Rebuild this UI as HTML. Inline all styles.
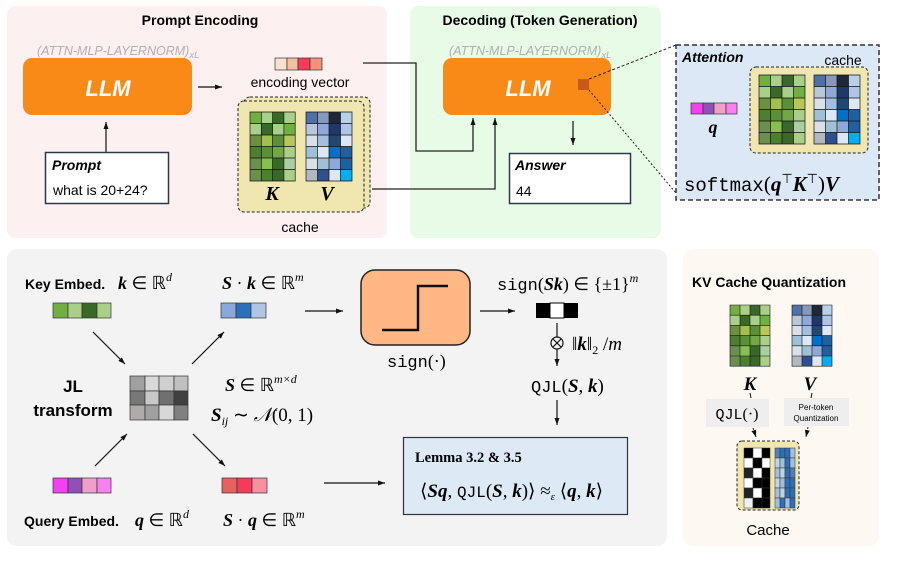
<!DOCTYPE html>
<html><head><meta charset="utf-8"><style>
body{margin:0;background:#fff}
svg{display:block}
text{font-family:"Liberation Sans",sans-serif}
.m{font-family:"Liberation Serif",serif}
.mono{font-family:"Liberation Mono",monospace}
</style></head><body>
<svg width="897" height="563" viewBox="0 0 897 563" xmlns="http://www.w3.org/2000/svg">
<defs>
<marker id="a" markerWidth="8" markerHeight="8" refX="7" refY="4" orient="auto" markerUnits="userSpaceOnUse"><path d="M0,1.5 L7,4 L0,6.5z" fill="#111"/></marker>
<g id="K">
<rect x="0" y="0" width="10" height="10" fill="#70b040"/><rect x="10" y="0" width="10" height="10" fill="#a8d088"/><rect x="20" y="0" width="10" height="10" fill="#3a6828"/><rect x="30" y="0" width="10" height="10" fill="#a8d088"/>
<rect x="0" y="10" width="10" height="10" fill="#a8d088"/><rect x="10" y="10" width="10" height="10" fill="#3a6828"/><rect x="20" y="10" width="10" height="10" fill="#a8d088"/><rect x="30" y="10" width="10" height="10" fill="#70b040"/>
<rect x="0" y="20" width="10" height="10" fill="#6a9040"/><rect x="10" y="20" width="10" height="10" fill="#a0c050"/><rect x="20" y="20" width="10" height="10" fill="#5a9038"/><rect x="30" y="20" width="10" height="10" fill="#b8c858"/>
<rect x="0" y="30" width="10" height="10" fill="#4a8030"/><rect x="10" y="30" width="10" height="10" fill="#5a9038"/><rect x="20" y="30" width="10" height="10" fill="#70a848"/><rect x="30" y="30" width="10" height="10" fill="#a8d088"/>
<rect x="0" y="40" width="10" height="10" fill="#6a9050"/><rect x="10" y="40" width="10" height="10" fill="#88c050"/><rect x="20" y="40" width="10" height="10" fill="#3a6828"/><rect x="30" y="40" width="10" height="10" fill="#a8d0a0"/>
<rect x="0" y="50" width="10" height="10" fill="#6a9050"/><rect x="10" y="50" width="10" height="10" fill="#4a8030"/><rect x="20" y="50" width="10" height="10" fill="#3a6828"/><rect x="30" y="50" width="10" height="10" fill="#a8d088"/>
<path d="M0,0H40V60H0z M10,0V60 M20,0V60 M30,0V60 M0,10H40 M0,20H40 M0,30H40 M0,40H40 M0,50H40" fill="none" stroke="#111" stroke-width="0.6"/>
</g>
<g id="V">
<rect x="0" y="0" width="10" height="10" fill="#5070a8"/><rect x="10" y="0" width="10" height="10" fill="#8898b8"/><rect x="20" y="0" width="10" height="10" fill="#202838"/><rect x="30" y="0" width="10" height="10" fill="#b8d0e8"/>
<rect x="0" y="10" width="10" height="10" fill="#b8c8d8"/><rect x="10" y="10" width="10" height="10" fill="#90a8d8"/><rect x="20" y="10" width="10" height="10" fill="#203868"/><rect x="30" y="10" width="10" height="10" fill="#b0c4e6"/>
<rect x="0" y="20" width="10" height="10" fill="#d8e0e8"/><rect x="10" y="20" width="10" height="10" fill="#a0c0e0"/><rect x="20" y="20" width="10" height="10" fill="#204870"/><rect x="30" y="20" width="10" height="10" fill="#dce8f5"/>
<rect x="0" y="30" width="10" height="10" fill="#a0c0d8"/><rect x="10" y="30" width="10" height="10" fill="#dce8f5"/><rect x="20" y="30" width="10" height="10" fill="#0070c8"/><rect x="30" y="30" width="10" height="10" fill="#2060a0"/>
<rect x="0" y="40" width="10" height="10" fill="#d8e0e8"/><rect x="10" y="40" width="10" height="10" fill="#a0c0d8"/><rect x="20" y="40" width="10" height="10" fill="#90a8d8"/><rect x="30" y="40" width="10" height="10" fill="#2060a0"/>
<rect x="0" y="50" width="10" height="10" fill="#b0b8c0"/><rect x="10" y="50" width="10" height="10" fill="#2e5090"/><rect x="20" y="50" width="10" height="10" fill="#dce8f5"/><rect x="30" y="50" width="10" height="10" fill="#00b0f0"/>
<path d="M0,0H40V60H0z M10,0V60 M20,0V60 M30,0V60 M0,10H40 M0,20H40 M0,30H40 M0,40H40 M0,50H40" fill="none" stroke="#111" stroke-width="0.6"/>
</g>
</defs>

<rect x="7" y="6" width="380" height="232" rx="8" fill="#fdf0f1"/>
<rect x="410" y="6" width="251" height="232" rx="8" fill="#e8fbe6"/>
<rect x="7" y="249" width="660" height="297" rx="10" fill="#f3f3f3"/>
<rect x="683" y="249" width="196" height="297" rx="10" fill="#fdf9f2"/>

<!-- Prompt encoding -->
<text x="200" y="25" font-size="14" font-weight="bold" text-anchor="middle">Prompt Encoding</text>
<text x="37" y="55" font-size="12.5" font-style="italic" fill="#b0b0b0">(ATTN-MLP-LAYERNORM)<tspan font-size="9.5" dy="3">xL</tspan></text>
<rect x="23" y="58" width="169" height="57" rx="9" fill="#f98a18"/>
<text x="108" y="96" font-size="22" font-weight="bold" font-style="italic" fill="#fff" text-anchor="middle">LLM</text>
<line x1="198" y1="87" x2="222" y2="87" stroke="#111" stroke-width="1.2" marker-end="url(#a)"/>
<rect x="275" y="58" width="12" height="12" fill="#f8e0d0" stroke="#333" stroke-width="0.7"/>
<rect x="287" y="58" width="11" height="12" fill="#f5c0a0" stroke="#333" stroke-width="0.7"/>
<rect x="298" y="58" width="12" height="12" fill="#f53a5a" stroke="#333" stroke-width="0.7"/>
<rect x="310" y="58" width="12" height="12" fill="#f5907a" stroke="#333" stroke-width="0.7"/>
<text x="300" y="87" font-size="14" text-anchor="middle">encoding vector</text>
<rect x="244" y="97" width="126" height="111" rx="6" fill="#f0e6b0" stroke="#222" stroke-dasharray="3,2"/>
<rect x="238" y="101" width="126" height="111" rx="6" fill="#f0e6b0" stroke="#222" stroke-dasharray="3,2"/>
<use href="#K" transform="translate(250,112) scale(1.13,1.15)"/>
<use href="#V" transform="translate(306,112) scale(1.15,1.15)"/>
<text x="272" y="200" font-size="20" font-weight="bold" font-style="italic" class="m" text-anchor="middle">K</text>
<text x="327" y="200" font-size="20" font-weight="bold" font-style="italic" class="m" text-anchor="middle">V</text>
<text x="300" y="232" font-size="14" text-anchor="middle">cache</text>
<line x1="106" y1="152" x2="106" y2="122" stroke="#111" stroke-width="1.2" marker-end="url(#a)"/>
<rect x="45.5" y="152.5" width="123" height="51" fill="#fff" stroke="#2a3a4a" stroke-width="1.5"/>
<text x="52" y="170" font-size="14" font-weight="bold" font-style="italic">Prompt</text>
<text x="53" y="195" font-size="14">what is 20+24?</text>

<polyline points="363,63 416,63 416,151 473,151 473,118" fill="none" stroke="#222" stroke-width="1.3" marker-end="url(#a)"/>
<polyline points="372,189 495,189 495,118" fill="none" stroke="#222" stroke-width="1.3" marker-end="url(#a)"/>

<!-- Decoding -->
<text x="540" y="25" font-size="14" font-weight="bold" text-anchor="middle">Decoding (Token Generation)</text>
<text x="449" y="55" font-size="12.5" font-style="italic" fill="#b0b0b0">(ATTN-MLP-LAYERNORM)<tspan font-size="9.5" dy="3">xL</tspan></text>
<rect x="443" y="58" width="168" height="57" rx="9" fill="#f98a18"/>
<text x="528" y="96" font-size="22" font-weight="bold" font-style="italic" fill="#fff" text-anchor="middle">LLM</text>
<rect x="578" y="79" width="11" height="11" fill="#c85a18"/>
<line x1="573" y1="121" x2="573" y2="145" stroke="#111" stroke-width="1.2" marker-end="url(#a)"/>
<rect x="509.5" y="153.5" width="121" height="50" fill="#fff" stroke="#2a3a4a" stroke-width="1.5"/>
<text x="515" y="170" font-size="14" font-weight="bold" font-style="italic">Answer</text>
<text x="516" y="196" font-size="14">44</text>
<line x1="589" y1="79" x2="676" y2="45" stroke="#222" stroke-dasharray="3,2"/>
<line x1="589" y1="90" x2="676" y2="193" stroke="#222" stroke-dasharray="2,2"/>

<rect x="676" y="45" width="203" height="155" fill="#dce8f5" stroke="#333" stroke-width="1.5" stroke-dasharray="5,3"/>
<text x="682" y="62" font-size="14" font-weight="bold" font-style="italic">Attention</text>
<text x="843" y="65" font-size="14" text-anchor="middle">cache</text>
<rect x="750" y="67" width="118" height="86" rx="6" fill="#f0e6b0" stroke="#222" stroke-dasharray="3,2"/>
<use href="#K" transform="translate(759,75) scale(1.15,1.15)"/>
<use href="#V" transform="translate(814,75) scale(1.15,1.15)"/>
<rect x="691" y="103" width="12" height="11" fill="#f540f0" stroke="#333" stroke-width="0.7"/>
<rect x="703" y="103" width="11" height="11" fill="#9050b8" stroke="#333" stroke-width="0.7"/>
<rect x="714" y="103" width="12" height="11" fill="#f0a0c8" stroke="#333" stroke-width="0.7"/>
<rect x="726" y="103" width="11" height="11" fill="#f880f0" stroke="#333" stroke-width="0.7"/>
<text x="713" y="133" font-size="18" font-weight="bold" font-style="italic" class="m" text-anchor="middle">q</text>
<text x="684" y="191" font-size="21"><tspan class="mono" font-size="19">softmax</tspan><tspan class="m">(</tspan><tspan class="m" font-weight="bold" font-style="italic">q</tspan><tspan class="m" font-size="13" dy="-8">⊤</tspan><tspan class="m" font-weight="bold" font-style="italic" dy="8">K</tspan><tspan class="m" font-size="13" dy="-8">⊤</tspan><tspan class="m" dy="8">)</tspan><tspan class="m" font-weight="bold" font-style="italic">V</tspan></text>

<!-- JL section -->
<text x="25" y="289" font-size="14" font-weight="bold">Key Embed.</text>
<text x="118" y="289" font-size="18" class="m"><tspan font-weight="bold" font-style="italic">k</tspan> ∈ ℝ<tspan font-size="12" font-style="italic" dy="-8">d</tspan></text>
<rect x="53" y="303" width="15" height="15" fill="#70b040" stroke="#333" stroke-width="0.7"/>
<rect x="68" y="303" width="14" height="15" fill="#a8d088" stroke="#333" stroke-width="0.7"/>
<rect x="82" y="303" width="15" height="15" fill="#3a6828" stroke="#333" stroke-width="0.7"/>
<rect x="97" y="303" width="14" height="15" fill="#a8d088" stroke="#333" stroke-width="0.7"/>
<text x="222" y="289" font-size="18" class="m"><tspan font-weight="bold" font-style="italic">S</tspan> · <tspan font-weight="bold" font-style="italic">k</tspan> ∈ ℝ<tspan font-size="12" font-style="italic" dy="-8">m</tspan></text>
<rect x="221" y="303" width="15" height="15" fill="#8aa8dc" stroke="#333" stroke-width="0.7"/>
<rect x="236" y="303" width="15" height="15" fill="#2e70b8" stroke="#333" stroke-width="0.7"/>
<rect x="251" y="303" width="15" height="15" fill="#b0c4e6" stroke="#333" stroke-width="0.7"/>
<line x1="305" y1="311" x2="343" y2="311" stroke="#111" stroke-width="1.2" marker-end="url(#a)"/>
<rect x="361" y="270" width="109" height="75" rx="14" fill="#ffb885" stroke="#222" stroke-width="1.5"/>
<polyline points="382,330 418,330 418,286 448,286" fill="none" stroke="#111" stroke-width="2.5"/>
<text x="387" y="367" font-size="18"><tspan class="mono" font-size="17">sign</tspan><tspan class="m">(·)</tspan></text>
<line x1="480" y1="311" x2="515" y2="311" stroke="#111" stroke-width="1.2" marker-end="url(#a)"/>
<text x="497" y="290" font-size="18"><tspan class="mono" font-size="17">sign</tspan><tspan class="m">(<tspan font-weight="bold" font-style="italic">Sk</tspan>) ∈ {±1}<tspan font-size="12" font-style="italic" dy="-8">m</tspan></tspan></text>
<rect x="536" y="303" width="14" height="15" fill="#000"/>
<rect x="550" y="303" width="14" height="15" fill="#fff" stroke="#000"/>
<rect x="564" y="303" width="14" height="15" fill="#000"/>
<line x1="557" y1="323" x2="557" y2="366" stroke="#111" stroke-width="1.2" marker-end="url(#a)"/>
<circle cx="557" cy="343" r="6" fill="#f3f3f3" stroke="#111" stroke-width="1.2"/>
<path d="M553,339L561,347M561,339L553,347" stroke="#111" stroke-width="1.2"/>
<text x="572" y="350" font-size="19" class="m">‖<tspan font-weight="bold" font-style="italic">k</tspan>‖<tspan font-size="12" dy="4">2</tspan><tspan dy="-4"> /</tspan><tspan font-style="italic">m</tspan></text>
<text x="531" y="392" font-size="19"><tspan class="mono" font-size="17">QJL</tspan><tspan class="m">(<tspan font-weight="bold" font-style="italic">S</tspan>, <tspan font-weight="bold" font-style="italic">k</tspan>)</tspan></text>
<line x1="557" y1="400" x2="557" y2="425" stroke="#111" stroke-width="1.2" marker-end="url(#a)"/>
<rect x="403.5" y="437.5" width="224" height="77" fill="#dde9f5" stroke="#333" stroke-width="1.2"/>
<text x="415" y="462" font-size="14.5" font-weight="bold" class="m">Lemma 3.2 &amp; 3.5</text>
<text x="420" y="497" font-size="19" class="m">⟨<tspan font-weight="bold" font-style="italic">Sq</tspan>, <tspan class="mono" font-size="16">QJL</tspan>(<tspan font-weight="bold" font-style="italic">S</tspan>, <tspan font-weight="bold" font-style="italic">k</tspan>)⟩ ≈<tspan font-size="11" font-style="italic" dy="3">ε</tspan><tspan dy="-3"> ⟨</tspan><tspan font-weight="bold" font-style="italic">q</tspan>, <tspan font-weight="bold" font-style="italic">k</tspan>⟩</text>

<text x="73" y="392" font-size="17" font-weight="bold" text-anchor="middle">JL</text>
<text x="73" y="416" font-size="17" font-weight="bold" text-anchor="middle">transform</text>
<g stroke="#333" stroke-width="0.7">
<rect x="130" y="376" width="15" height="15" fill="#a0a0a0"/><rect x="145" y="376" width="14" height="15" fill="#d8d8d8"/><rect x="159" y="376" width="15" height="15" fill="#d0d0d0"/><rect x="174" y="376" width="14" height="15" fill="#c0c0c0"/>
<rect x="130" y="391" width="15" height="14" fill="#787878"/><rect x="145" y="391" width="14" height="14" fill="#c8c8c8"/><rect x="159" y="391" width="15" height="14" fill="#707070"/><rect x="174" y="391" width="14" height="14" fill="#404040"/>
<rect x="130" y="405" width="15" height="15" fill="#b0aaaa"/><rect x="145" y="405" width="14" height="15" fill="#a0a0a0"/><rect x="159" y="405" width="15" height="15" fill="#d8d8d8"/><rect x="174" y="405" width="14" height="15" fill="#808080"/>
</g>
<line x1="93" y1="332" x2="125" y2="364" stroke="#111" stroke-width="1.2" marker-end="url(#a)"/>
<line x1="192" y1="364" x2="224" y2="332" stroke="#111" stroke-width="1.2" marker-end="url(#a)"/>
<line x1="95" y1="466" x2="127" y2="434" stroke="#111" stroke-width="1.2" marker-end="url(#a)"/>
<line x1="193" y1="434" x2="225" y2="466" stroke="#111" stroke-width="1.2" marker-end="url(#a)"/>
<text x="225" y="391" font-size="18" class="m"><tspan font-weight="bold" font-style="italic">S</tspan> ∈ ℝ<tspan font-size="12" font-style="italic" dy="-8">m×d</tspan></text>
<text x="211" y="421" font-size="19" class="m"><tspan font-weight="bold" font-style="italic">S</tspan><tspan font-size="12" font-style="italic" dy="4">ij</tspan><tspan dy="-4"> ∼ </tspan><tspan font-style="italic">𝒩</tspan>(0, 1)</text>

<rect x="53" y="478" width="15" height="15" fill="#f540f0" stroke="#333" stroke-width="0.7"/>
<rect x="68" y="478" width="14" height="15" fill="#9050b8" stroke="#333" stroke-width="0.7"/>
<rect x="82" y="478" width="15" height="15" fill="#f0a0c8" stroke="#333" stroke-width="0.7"/>
<rect x="97" y="478" width="14" height="15" fill="#f880f0" stroke="#333" stroke-width="0.7"/>
<rect x="222" y="478" width="15" height="15" fill="#e86060" stroke="#333" stroke-width="0.7"/>
<rect x="237" y="478" width="15" height="15" fill="#f53a5a" stroke="#333" stroke-width="0.7"/>
<rect x="252" y="478" width="15" height="15" fill="#f890a0" stroke="#333" stroke-width="0.7"/>
<line x1="324" y1="483" x2="385" y2="483" stroke="#111" stroke-width="1.2" marker-end="url(#a)"/>
<text x="24" y="526" font-size="14" font-weight="bold">Query Embed.</text>
<text x="135" y="526" font-size="18" class="m"><tspan font-weight="bold" font-style="italic">q</tspan> ∈ ℝ<tspan font-size="12" font-style="italic" dy="-8">d</tspan></text>
<text x="223" y="526" font-size="18" class="m"><tspan font-weight="bold" font-style="italic">S</tspan> · <tspan font-weight="bold" font-style="italic">q</tspan> ∈ ℝ<tspan font-size="12" font-style="italic" dy="-8">m</tspan></text>

<!-- KV cache quantization -->
<text x="692" y="287" font-size="14" font-weight="bold">KV Cache Quantization</text>
<use href="#K" transform="translate(730,305) scale(1,1.02)"/>
<use href="#V" transform="translate(792,305) scale(1,1.02)"/>
<text x="750" y="390" font-size="19" font-weight="bold" font-style="italic" class="m" text-anchor="middle">K</text>
<text x="810" y="390" font-size="19" font-weight="bold" font-style="italic" class="m" text-anchor="middle">V</text>
<rect x="706" y="399" width="63" height="28" fill="#eeeeee"/>
<text x="737" y="419" font-size="16" text-anchor="middle"><tspan class="mono" font-size="15">QJL</tspan><tspan class="m">(·)</tspan></text>
<rect x="784" y="398" width="65" height="28" fill="#eeeeee"/>
<text x="816" y="410" font-size="8" text-anchor="middle">Per-token</text>
<text x="816" y="421" font-size="8" text-anchor="middle">Quantization</text>
<line x1="750" y1="393" x2="751" y2="398" stroke="#111"/>
<line x1="753" y1="428" x2="756" y2="437" stroke="#111" stroke-dasharray="2,2" marker-end="url(#a)"/>
<line x1="812" y1="393" x2="811" y2="398" stroke="#111"/>
<line x1="808" y1="427" x2="806" y2="437" stroke="#111" stroke-dasharray="2,2" marker-end="url(#a)"/>
<rect x="737" y="441" width="62" height="69" rx="5" fill="#f0e6b0" stroke="#222" stroke-dasharray="3,2"/>
<g stroke="#333" stroke-width="0.5">
<rect x="744" y="448" width="9" height="10" fill="#000"/><rect x="753" y="448" width="9" height="10" fill="#fff"/><rect x="762" y="448" width="8" height="10" fill="#000"/>
<rect x="744" y="458" width="9" height="10" fill="#fff"/><rect x="753" y="458" width="9" height="10" fill="#000"/><rect x="762" y="458" width="8" height="10" fill="#fff"/>
<rect x="744" y="468" width="9" height="10" fill="#222"/><rect x="753" y="468" width="9" height="10" fill="#fff"/><rect x="762" y="468" width="8" height="10" fill="#000"/>
<rect x="744" y="478" width="9" height="10" fill="#fff"/><rect x="753" y="478" width="9" height="10" fill="#000"/><rect x="762" y="478" width="8" height="10" fill="#000"/>
<rect x="744" y="488" width="9" height="10" fill="#222"/><rect x="753" y="488" width="9" height="10" fill="#fff"/><rect x="762" y="488" width="8" height="10" fill="#000"/>
<rect x="744" y="498" width="9" height="10" fill="#f0f0f0"/><rect x="753" y="498" width="9" height="10" fill="#000"/><rect x="762" y="498" width="8" height="10" fill="#000"/>
<rect x="775" y="448" width="5" height="10" fill="#5080b8"/><rect x="780" y="448" width="5" height="10" fill="#2e70b8"/><rect x="785" y="448" width="5" height="10" fill="#2e70b8"/><rect x="790" y="448" width="5" height="10" fill="#a0c0e0"/>
<rect x="775" y="458" width="5" height="10" fill="#c0d4e4"/><rect x="780" y="458" width="5" height="10" fill="#a0c0e0"/><rect x="785" y="458" width="5" height="10" fill="#2e70b8"/><rect x="790" y="458" width="5" height="10" fill="#a0c0e0"/>
<rect x="775" y="468" width="5" height="10" fill="#a0c0e0"/><rect x="780" y="468" width="5" height="10" fill="#c0d4e4"/><rect x="785" y="468" width="5" height="10" fill="#2e70b8"/><rect x="790" y="468" width="5" height="10" fill="#5080b8"/>
<rect x="775" y="478" width="5" height="10" fill="#c0d4e4"/><rect x="780" y="478" width="5" height="10" fill="#a0c0e0"/><rect x="785" y="478" width="5" height="10" fill="#2e70b8"/><rect x="790" y="478" width="5" height="10" fill="#2e70b8"/>
<rect x="775" y="488" width="5" height="10" fill="#a0c0e0"/><rect x="780" y="488" width="5" height="10" fill="#c0d4e4"/><rect x="785" y="488" width="5" height="10" fill="#2e70b8"/><rect x="790" y="488" width="5" height="10" fill="#2e70b8"/>
<rect x="775" y="498" width="5" height="10" fill="#a0c0e0"/><rect x="780" y="498" width="5" height="10" fill="#2e70b8"/><rect x="785" y="498" width="5" height="10" fill="#a0c0e0"/><rect x="790" y="498" width="5" height="10" fill="#2e70b8"/>
</g>
<text x="768" y="535" font-size="15" text-anchor="middle">Cache</text>
</svg>
</body></html>
